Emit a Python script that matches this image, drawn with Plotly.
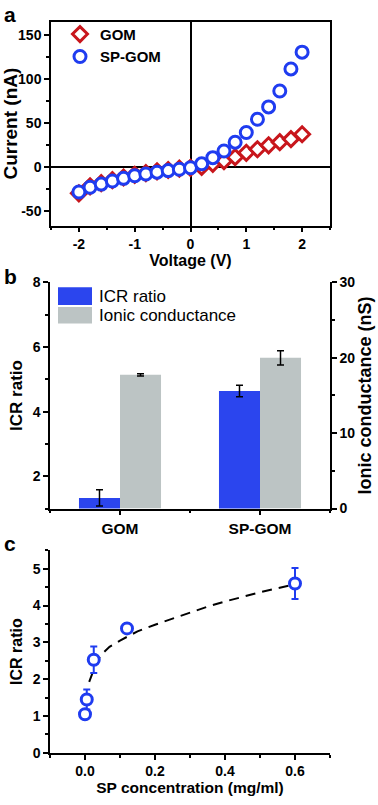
import plotly.graph_objects as go

# ---------------- data ----------------
# Panel a: I-V curves
voltage = [-2.0, -1.8, -1.6, -1.4, -1.2, -1.0, -0.8, -0.6, -0.4, -0.2, 0.0,
           0.2, 0.4, 0.6, 0.8, 1.0, 1.2, 1.4, 1.6, 1.8, 2.0]
current_gom = [-29.5, -21.5, -18, -14.5, -11.5, -8.5, -6.5, -4.5, -3, -1.5, -0.5,
               0.5, 4, 7, 11.5, 16.5, 20.5, 25, 28.5, 32, 37.5]
current_spgom = [-28, -22.5, -19, -15.5, -12.5, -9.5, -7.5, -5.5, -3.7, -2.2, -0.5,
                 4, 11, 18.5, 28.5, 39.5, 54.5, 68.5, 86.5, 111.5, 130.5]
a_xticks = [-2, -1, 0, 1, 2]
a_xticklabels = ["-2", "-1", "0", "1", "2"]
a_yticks = [-50, 0, 50, 100, 150]
a_yticklabels = ["-50", "0", "50", "100", "150"]

# Panel b: bars
categories = ["GOM", "SP-GOM"]
icr_ratio = [1.33, 4.64]
icr_err = [0.25, 0.18]
ionic_cond = [17.75, 20.0]
ionic_err = [0.15, 0.95]

# Panel c: ICR ratio vs SP concentration
sp_conc = [0.0, 0.005, 0.025, 0.12, 0.6]
icr_c = [1.05, 1.45, 2.53, 3.38, 4.6]
icr_c_err = [0.07, 0.27, 0.36, 0.08, 0.42]
fit_x = [0.012, 0.02, 0.03, 0.045, 0.07, 0.1, 0.15, 0.2, 0.25, 0.3, 0.35,
         0.4, 0.45, 0.5, 0.55, 0.6]
fit_y = [1.93, 2.12, 2.38, 2.65, 2.88, 3.05, 3.3, 3.48, 3.65, 3.81, 3.97,
         4.11, 4.24, 4.36, 4.47, 4.58]

# ---------------- style ----------------
W, H = 378, 805
RED = "#c8161c"
BLUE = "#1f3cf0"
BAR_BLUE = "#2b45ee"
BAR_GRAY = "#bcc4c4"
FONT = "Liberation Sans"


def px(x):
    return x / W


def py(y):
    return 1 - y / H


fig = go.Figure()

# Panel a
fig.add_trace(go.Scatter(
    x=voltage, y=current_gom, mode="markers", name="GOM",
    marker=dict(symbol="diamond", size=11.5, color="white",
                line=dict(color=RED, width=3)),
    xaxis="x", yaxis="y"))
fig.add_trace(go.Scatter(
    x=voltage, y=current_spgom, mode="markers", name="SP-GOM",
    marker=dict(symbol="circle", size=12, color="white",
                line=dict(color=BLUE, width=3)),
    xaxis="x", yaxis="y"))

# Panel b
cat_pos = list(range(len(categories)))
bw = 0.293
fig.add_trace(go.Bar(
    x=cat_pos, y=icr_ratio, width=bw, offset=-bw, marker=dict(color=BAR_BLUE, line=dict(width=0)),
    error_y=dict(type="data", array=icr_err, color="black", thickness=1.5, width=3.5),
    showlegend=False, xaxis="x2", yaxis="y2"))
fig.add_trace(go.Bar(
    x=cat_pos, y=ionic_cond, width=bw, offset=0, marker=dict(color=BAR_GRAY, line=dict(width=0)),
    error_y=dict(type="data", array=ionic_err, color="black", thickness=1.5, width=3.5),
    showlegend=False, xaxis="x2", yaxis="y3"))

# Panel c
fig.add_trace(go.Scatter(
    x=fit_x, y=fit_y, mode="lines",
    line=dict(color="black", width=2, dash="10px,7px"),
    showlegend=False, xaxis="x3", yaxis="y4"))
fig.add_trace(go.Scatter(
    x=sp_conc, y=icr_c, mode="markers",
    marker=dict(symbol="circle", size=11, color="white", line=dict(color=BLUE, width=3)),
    error_y=dict(type="data", array=icr_c_err, color=BLUE, thickness=2, width=3.5),
    showlegend=False, xaxis="x3", yaxis="y4"))


def axis(**kw):
    d = dict(showline=True, linecolor="black", linewidth=1.5, ticks="outside",
             ticklen=5, tickwidth=1.5, tickcolor="black", showgrid=False,
             tickfont=dict(family=FONT, size=14, color="black", weight="bold"),
             zeroline=False)
    d.update(kw)
    return d


def minor(tick0, dtick):
    return dict(ticks="outside", ticklen=3, tickmode="linear", tick0=tick0, dtick=dtick,
                tickcolor="black", tickwidth=1.5)


def title(text, size=16, standoff=4):
    return dict(text=text, font=dict(family=FONT, size=size, color="black", weight="bold"),
                standoff=standoff)


fig.update_layout(
    width=W, height=H, margin=dict(l=0, r=0, t=0, b=0),
    plot_bgcolor="white", paper_bgcolor="white",
    font=dict(family=FONT, color="black"),
    barmode="overlay",
    xaxis=axis(domain=[px(51), px(330)], anchor="y", range=[-2.5, 2.5],
               tickmode="array", tickvals=a_xticks, ticktext=a_xticklabels,
               mirror=True, zeroline=True, zerolinecolor="black", zerolinewidth=1.5,
               minor=minor(-2.5, 0.5),
               title=title("Voltage (V)", 16, 1)),
    yaxis=axis(domain=[py(222), py(14)], anchor="x", range=[-66, 165],
               tickmode="array", tickvals=a_yticks, ticktext=a_yticklabels,
               mirror=True, zeroline=True, zerolinecolor="black", zerolinewidth=1.5,
               minor=minor(-75, 25),
               title=title("Current (nA)", 19, 3)),
    xaxis2=axis(domain=[px(50), px(330)], anchor="y2", range=[-0.5, 1.5],
                tickmode="array", tickvals=cat_pos, ticktext=categories,
                tickfont=dict(family=FONT, size=15.5, color="black", weight="bold"),
                minor=minor(-0.5, 0.5)),
    yaxis2=axis(domain=[py(510.7), py(280)], anchor="x2", range=[1, 8],
                tick0=0, dtick=2, minor=minor(0, 1),
                title=title("ICR ratio", 17, 6)),
    yaxis3=axis(anchor="x2", overlaying="y2", side="right", range=[0, 30],
                tick0=0, dtick=10, minor=minor(0, 5),
                title=title("Ionic conductance (nS)", 18, 3)),
    xaxis3=axis(domain=[px(50), px(330)], anchor="y4", range=[-0.1, 0.7],
                tick0=0, dtick=0.2, tickformat=".1f", minor=minor(0, 0.1),
                title=title("SP concentration (mg/ml)", 15.5, 4)),
    yaxis4=axis(domain=[py(760), py(553.3)], anchor="x3", range=[0, 5.5],
                tick0=0, dtick=1, minor=minor(0, 0.5),
                title=title("ICR ratio", 16, 6)),
    legend=dict(x=px(60), y=py(10), xanchor="left", yanchor="top",
                bgcolor="rgba(0,0,0,0)", borderwidth=0,
                font=dict(family=FONT, size=15, color="black", weight="bold"),
                tracegroupgap=0),
)

# Panel b legend (drawn manually)
fig.add_shape(type="rect", xref="paper", yref="paper", x0=px(58), x1=px(92),
              y0=py(303), y1=py(285), fillcolor=BAR_BLUE, line=dict(width=0))
fig.add_shape(type="rect", xref="paper", yref="paper", x0=px(58), x1=px(92),
              y0=py(322), y1=py(305), fillcolor=BAR_GRAY, line=dict(width=0))
leg_font = dict(family=FONT, size=17, color="black")
fig.add_annotation(text="ICR ratio", xref="paper", yref="paper", x=px(97), y=py(294),
                   xanchor="left", yanchor="middle", showarrow=False, font=leg_font)
fig.add_annotation(text="Ionic conductance", xref="paper", yref="paper", x=px(97), y=py(313.5),
                   xanchor="left", yanchor="middle", showarrow=False, font=leg_font)

# Panel labels
lab_font = dict(family=FONT, size=21, color="black", weight="bold")
for t, y in [("a", 7), ("b", 274), ("c", 546)]:
    fig.add_annotation(text=t, xref="paper", yref="paper", x=px(2), y=py(y),
                       xanchor="left", yanchor="middle", showarrow=False, font=lab_font)

fig.write_html("out.html", config={"displayModeBar": False},
               post_script="document.body.style.margin='0';")
